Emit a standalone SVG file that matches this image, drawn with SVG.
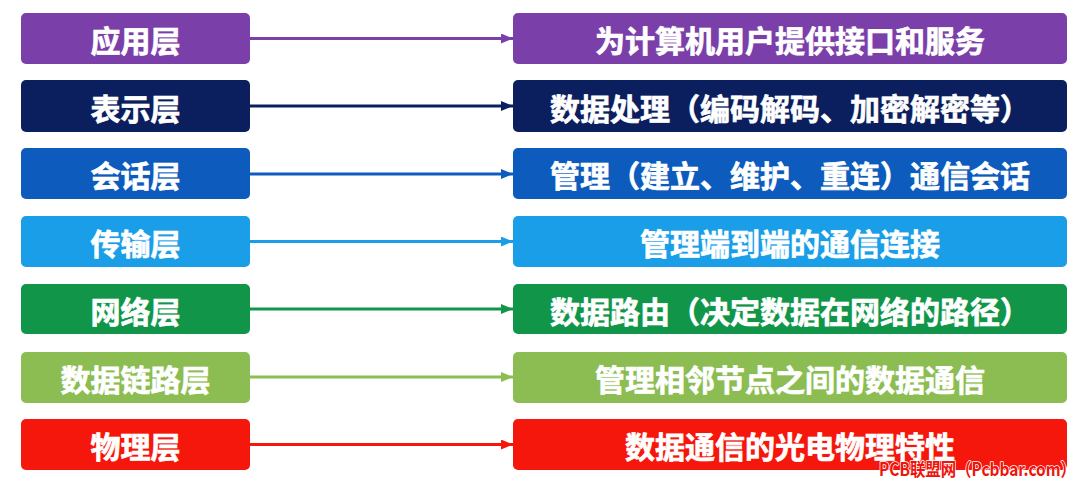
<svg xmlns="http://www.w3.org/2000/svg" width="1080" height="482" viewBox="0 0 1080 482">
<style>
.box{rx:5px;ry:5px}
.lbl{font-family:"Noto Sans CJK SC","Noto Sans",sans-serif;font-weight:bold;font-size:30px;fill:#ffffff;stroke:#ffffff;stroke-width:0.7px;text-anchor:middle}
.ln{stroke-width:3;fill:none}
.wm{font-family:"Noto Sans CJK SC","Liberation Sans",sans-serif;font-weight:bold;font-size:18px;fill:#ee140c;stroke:#ffffff;stroke-width:1.6px;paint-order:stroke;stroke-linejoin:round}
</style>
<defs>
<marker id="a1" viewBox="0 0 12 10" refX="12" refY="5" markerUnits="userSpaceOnUse" markerWidth="12" markerHeight="10" orient="auto"><path d="M0,0L12,5L0,10z" fill="#7b3fa9"/></marker>
<marker id="a2" viewBox="0 0 12 10" refX="12" refY="5" markerUnits="userSpaceOnUse" markerWidth="12" markerHeight="10" orient="auto"><path d="M0,0L12,5L0,10z" fill="#0b1f5e"/></marker>
<marker id="a3" viewBox="0 0 12 10" refX="12" refY="5" markerUnits="userSpaceOnUse" markerWidth="12" markerHeight="10" orient="auto"><path d="M0,0L12,5L0,10z" fill="#0d5cbd"/></marker>
<marker id="a4" viewBox="0 0 12 10" refX="12" refY="5" markerUnits="userSpaceOnUse" markerWidth="12" markerHeight="10" orient="auto"><path d="M0,0L12,5L0,10z" fill="#1a9ee8"/></marker>
<marker id="a5" viewBox="0 0 12 10" refX="12" refY="5" markerUnits="userSpaceOnUse" markerWidth="12" markerHeight="10" orient="auto"><path d="M0,0L12,5L0,10z" fill="#119649"/></marker>
<marker id="a6" viewBox="0 0 12 10" refX="12" refY="5" markerUnits="userSpaceOnUse" markerWidth="12" markerHeight="10" orient="auto"><path d="M0,0L12,5L0,10z" fill="#8bbd52"/></marker>
<marker id="a7" viewBox="0 0 12 10" refX="12" refY="5" markerUnits="userSpaceOnUse" markerWidth="12" markerHeight="10" orient="auto"><path d="M0,0L12,5L0,10z" fill="#f5170c"/></marker>
</defs>
<rect width="1080" height="482" fill="#ffffff"/>
<g id="connectors">
<line class="ln" x1="250" y1="38.5" x2="513" y2="38.5" stroke="#7b3fa9" marker-end="url(#a1)"/>
<line class="ln" x1="250" y1="106" x2="513" y2="106" stroke="#0b1f5e" marker-end="url(#a2)"/>
<line class="ln" x1="250" y1="174" x2="513" y2="174" stroke="#0d5cbd" marker-end="url(#a3)"/>
<line class="ln" x1="250" y1="241.5" x2="513" y2="241.5" stroke="#1a9ee8" marker-end="url(#a4)"/>
<line class="ln" x1="250" y1="309" x2="513" y2="309" stroke="#119649" marker-end="url(#a5)"/>
<line class="ln" x1="250" y1="377" x2="513" y2="377" stroke="#8bbd52" marker-end="url(#a6)"/>
<line class="ln" x1="250" y1="444.5" x2="513" y2="444.5" stroke="#f5170c" marker-end="url(#a7)"/>
</g>
<g id="n-app"><rect class="box" x="21" y="13" width="229" height="51" fill="#7b3fa9"/><text class="lbl" x="135.5" y="52">应用层</text></g>
<g id="n-app-d"><rect class="box" x="513" y="13" width="554" height="51" fill="#7b3fa9"/><text class="lbl" x="790" y="52">为计算机用户提供接口和服务</text></g>
<g id="n-pres"><rect class="box" x="21" y="80" width="229" height="52" fill="#0b1f5e"/><text class="lbl" x="135.5" y="119.5">表示层</text></g>
<g id="n-pres-d"><rect class="box" x="513" y="80" width="554" height="52" fill="#0b1f5e"/><text class="lbl" x="790" y="119.5">数据处理（编码解码、加密解密等）</text></g>
<g id="n-sess"><rect class="box" x="21" y="148" width="229" height="51" fill="#0d5cbd"/><text class="lbl" x="135.5" y="187">会话层</text></g>
<g id="n-sess-d"><rect class="box" x="513" y="148" width="554" height="51" fill="#0d5cbd"/><text class="lbl" x="790" y="187">管理（建立、维护、重连）通信会话</text></g>
<g id="n-trans"><rect class="box" x="21" y="216" width="229" height="51" fill="#1a9ee8"/><text class="lbl" x="135.5" y="255">传输层</text></g>
<g id="n-trans-d"><rect class="box" x="513" y="216" width="554" height="51" fill="#1a9ee8"/><text class="lbl" x="790" y="255">管理端到端的通信连接</text></g>
<g id="n-net"><rect class="box" x="21" y="284" width="229" height="50" fill="#119649"/><text class="lbl" x="135.5" y="322.5">网络层</text></g>
<g id="n-net-d"><rect class="box" x="513" y="284" width="554" height="50" fill="#119649"/><text class="lbl" x="790" y="322.5">数据路由（决定数据在网络的路径）</text></g>
<g id="n-link"><rect class="box" x="21" y="352" width="229" height="51" fill="#8bbd52"/><text class="lbl" x="135.5" y="391">数据链路层</text></g>
<g id="n-link-d"><rect class="box" x="513" y="352" width="554" height="51" fill="#8bbd52"/><text class="lbl" x="790" y="391">管理相邻节点之间的数据通信</text></g>
<g id="n-phy"><rect class="box" x="21" y="419" width="229" height="51" fill="#f5170c"/><text class="lbl" x="135.5" y="458">物理层</text></g>
<g id="n-phy-d"><rect class="box" x="513" y="419" width="554" height="51" fill="#f5170c"/><text class="lbl" x="790" y="458">数据通信的光电物理特性</text></g>
<text class="wm" x="879" y="476" textLength="197" lengthAdjust="spacingAndGlyphs">PCB联盟网（Pcbbar.com）</text>
</svg>
